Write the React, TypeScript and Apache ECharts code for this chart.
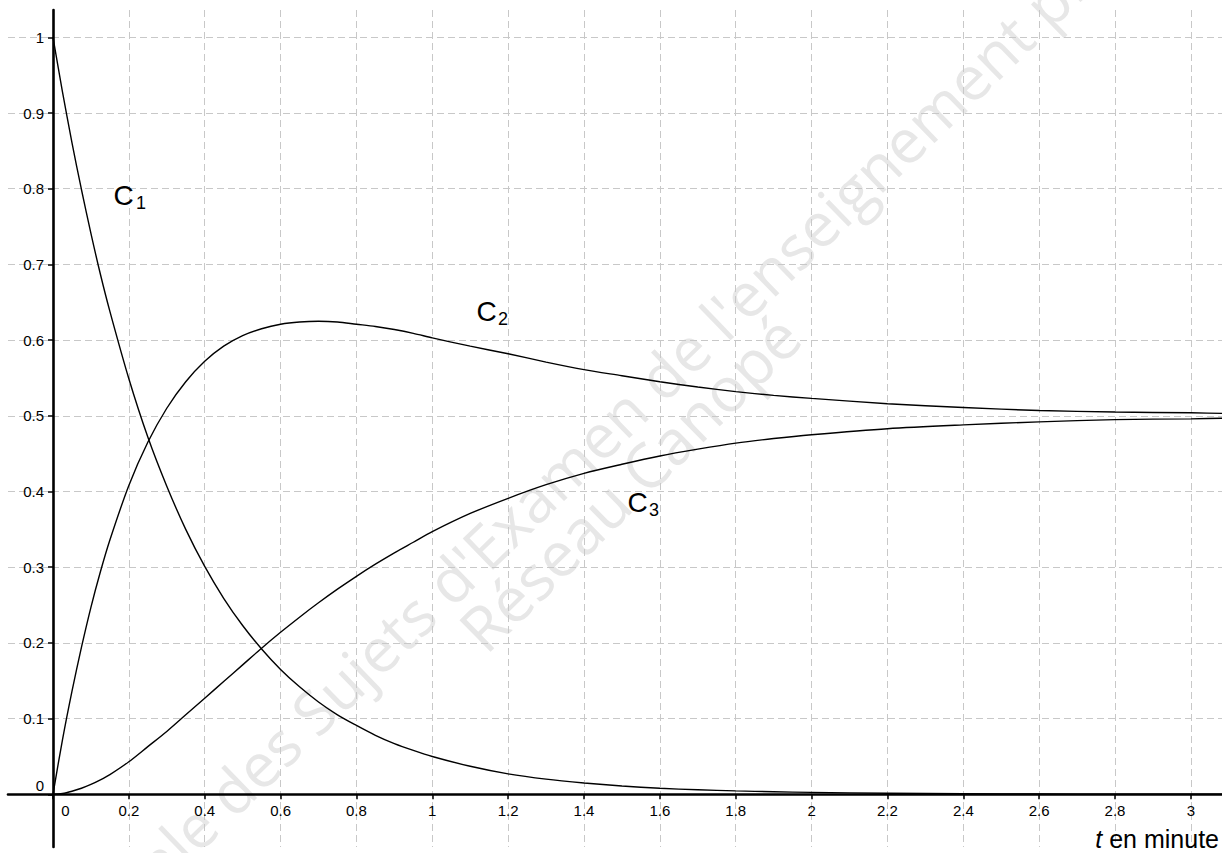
import React, { useEffect, useRef } from "react";
import * as echarts from "echarts";

// time (minutes)
const tValues = [
  0, 0.025, 0.05, 0.075, 0.1, 0.125, 0.15, 0.2, 0.25, 0.3, 0.35, 0.4, 0.45, 0.5,
  0.55, 0.6, 0.65, 0.7, 0.75, 0.8, 0.85, 0.9, 0.95, 1.0, 1.1, 1.2, 1.3, 1.4, 1.5,
  1.6, 1.7, 1.8, 1.9, 2.0, 2.2, 2.4, 2.6, 2.8, 3.0, 3.1,
];
const c1Values = [
  1, 0.928, 0.861, 0.799, 0.741, 0.687, 0.638, 0.549, 0.472, 0.407, 0.35, 0.301,
  0.259, 0.223, 0.192, 0.165, 0.142, 0.122, 0.105, 0.091, 0.078, 0.067, 0.058,
  0.05, 0.037, 0.027, 0.02, 0.015, 0.011, 0.008, 0.006, 0.0045, 0.0034, 0.0025,
  0.0014, 0.0008, 0.0004, 0.0002, 0.0001, 0.0001,
];
const c2Values = [
  0, 0.072, 0.136, 0.194, 0.247, 0.294, 0.336, 0.408, 0.465, 0.51, 0.545, 0.572,
  0.592, 0.606, 0.615, 0.621, 0.624, 0.625, 0.624, 0.621, 0.618, 0.614, 0.609,
  0.603, 0.592, 0.582, 0.571, 0.561, 0.553, 0.545, 0.538, 0.532, 0.527, 0.523,
  0.516, 0.511, 0.507, 0.505, 0.504, 0.503,
];
const c3Values = [
  0, 0.001, 0.004, 0.008, 0.013, 0.019, 0.026, 0.043, 0.063, 0.083, 0.105, 0.127,
  0.149, 0.171, 0.193, 0.214, 0.234, 0.253, 0.271, 0.288, 0.304, 0.319, 0.333,
  0.347, 0.371, 0.391, 0.409, 0.424, 0.436, 0.447, 0.456, 0.464, 0.47, 0.475,
  0.483, 0.488, 0.492, 0.495, 0.496, 0.497,
];
const curveSeries = [c1Values, c2Values, c3Values];
const curveSubscripts = ["1", "2", "3"];

const xTicks = [0, 0.2, 0.4, 0.6, 0.8, 1, 1.2, 1.4, 1.6, 1.8, 2, 2.2, 2.4, 2.6, 2.8, 3];
const yTicks = [0, 0.1, 0.2, 0.3, 0.4, 0.5, 0.6, 0.7, 0.8, 0.9, 1];

const axisTitleItalic = "t";
const axisTitleRest = " en minute";
const watermarkLine1 = "Base Nationale des Sujets d'Examen de l'enseignement professionnel";
const watermarkLine2 = "Réseau Canopé";

const FONT = "Liberation Sans, Arial, sans-serif";

export default function App() {
  const ref = useRef<HTMLDivElement>(null);

  useEffect(() => {
    const chart = echarts.init(ref.current as HTMLDivElement, null, { renderer: "svg" });
    const fmt = (v: number) => String(Number(v.toFixed(2)));
    const tickFont = { fontSize: 15, fontFamily: FONT, color: "#000" };

    const labelPos = [
      { x: 113.5, y: 195.5, sx: 136, sy: 203 },
      { x: 476.5, y: 311, sx: 498, sy: 318.5 },
      { x: 627.5, y: 502, sx: 649, sy: 509.5 },
    ];
    const wm1Angle = (44 * Math.PI) / 180;
    const wm2Angle = (44.5 * Math.PI) / 180;

    chart.setOption({
      animation: false,
      backgroundColor: "#ffffff",
      grid: {
        left: 8,
        top: 10,
        right: 0,
        bottom: 6,
        containLabel: false,
        outerBoundsMode: "none",
      },
      xAxis: {
        type: "value",
        position: "bottom",
        offset: -52.7,
        min: -0.1186,
        max: 3.082,
        axisLine: { onZero: false, lineStyle: { color: "#000", width: 2.6 } },
        axisTick: {
          show: true,
          customValues: xTicks,
          length: 5,
          lineStyle: { color: "#000", width: 1.5 },
        },
        axisLabel: {
          customValues: xTicks,
          margin: 9,
          ...tickFont,
          formatter: (v: number) => (v === 0 ? "{z|0}" : "{n|" + fmt(v) + "}"),
          rich: {
            z: { padding: [0, 0, 0, 25], ...tickFont },
            n: { ...tickFont },
          },
        },
        splitLine: {
          show: true,
          lineStyle: { type: [7, 4], color: "#c8c8c8", width: 1 },
        },
      },
      yAxis: {
        type: "value",
        position: "left",
        offset: -45,
        min: -0.0696,
        max: 1.0361,
        axisLine: { onZero: false, lineStyle: { color: "#000", width: 2.6 } },
        axisTick: {
          show: true,
          customValues: yTicks,
          length: 5,
          lineStyle: { color: "#000", width: 1.5 },
        },
        axisLabel: {
          customValues: yTicks,
          margin: 9,
          align: "right",
          ...tickFont,
          formatter: (v: number) => (v === 0 ? "{z|0}" : "{n|" + fmt(v) + "}"),
          rich: {
            z: { padding: [0, 0, 17, 0], ...tickFont },
            n: { ...tickFont },
          },
        },
        splitLine: {
          show: true,
          lineStyle: { type: [7, 4], color: "#c8c8c8", width: 1 },
        },
      },
      graphic: [
        {
          type: "text",
          z: -1,
          x: 606,
          y: 428,
          rotation: wm1Angle,
          style: {
            text: watermarkLine1,
            fill: "#e7e7e7",
            fontSize: 61,
            fontFamily: "Open Sans, sans-serif",
            align: "center",
            verticalAlign: "middle",
          },
        },
        {
          type: "text",
          z: -1,
          x: 629,
          y: 482,
          rotation: wm2Angle,
          style: {
            text: watermarkLine2,
            fill: "#e7e7e7",
            fontSize: 62,
            fontFamily: "Open Sans, sans-serif",
            align: "center",
            verticalAlign: "middle",
          },
        },
        ...labelPos.flatMap((p, i) => [
          {
            type: "text",
            x: p.x,
            y: p.y,
            z: 10,
            style: {
              text: "C",
              fill: "#000",
              fontSize: 28,
              fontFamily: FONT,
              align: "left",
              verticalAlign: "middle",
            },
          },
          {
            type: "text",
            x: p.sx,
            y: p.sy,
            z: 10,
            style: {
              text: curveSubscripts[i],
              fill: "#000",
              fontSize: 18,
              fontFamily: FONT,
              align: "left",
              verticalAlign: "middle",
            },
          },
        ]),
        {
          type: "text",
          x: 1219,
          y: 839,
          z: 10,
          style: {
            text: "{i|" + axisTitleItalic + "}{r|" + axisTitleRest + "}",
            fill: "#000",
            fontSize: 25,
            fontFamily: FONT,
            align: "right",
            verticalAlign: "middle",
            rich: {
              i: { fontStyle: "italic", fontSize: 25, fontFamily: FONT, fill: "#000" },
              r: { fontSize: 25, fontFamily: FONT, fill: "#000" },
            },
          },
        },
      ],
      series: curveSeries.map((vals, i) => ({
        type: "line",
        name: "C" + curveSubscripts[i],
        data: tValues.map((t, j) => [t, vals[j]]),
        showSymbol: false,
        smooth: 0.3,
        clip: true,
        z: 5,
        lineStyle: { color: "#000", width: 1.4 },
      })),
    });

    return () => chart.dispose();
  }, []);

  return (
    <div
      ref={ref}
      style={{ position: "fixed", left: 0, top: 0, width: 1222, height: 853, background: "#fff" }}
    />
  );
}
